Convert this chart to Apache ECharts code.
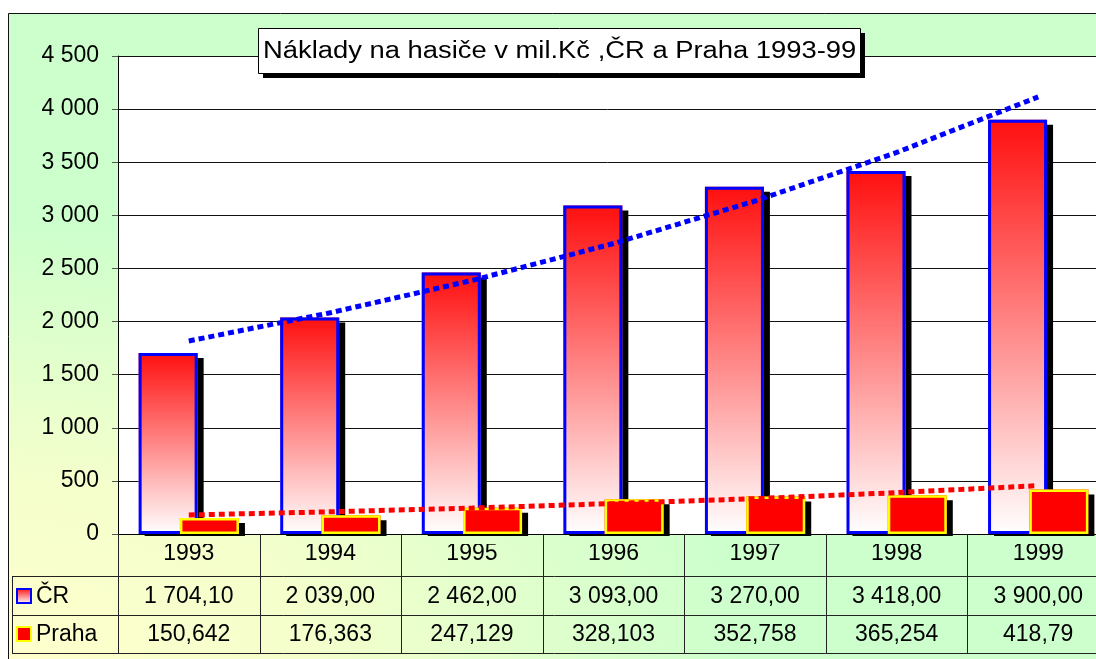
<!DOCTYPE html>
<html>
<head>
<meta charset="utf-8">
<title>Náklady na hasiče v mil.Kč ,ČR a Praha 1993-99</title>
<script src="https://cdn.jsdelivr.net/npm/echarts@6/dist/echarts.min.js"></script>
<style>
html, body { margin: 0; padding: 0; background: #fff; }
#chart { width: 1096px; height: 659px; }
</style>
</head>
<body>
<div id="chart"></div>
<script>
const chartTitle = 'Náklady na hasiče v mil.Kč ,ČR a Praha 1993-99'
const years = ['1993', '1994', '1995', '1996', '1997', '1998', '1999']
const crValues = [1704.10, 2039.00, 2462.00, 3093.00, 3270.00, 3418.00, 3900.00]
const prahaValues = [150.642, 176.363, 247.129, 328.103, 352.758, 365.254, 418.79]
// trend lines
const crTrend = [1817, 2083, 2387, 2735, 3135, 3592, 4115]
const prahaTrend = [179, 209, 244, 287, 333, 389, 455]

const font = '"Liberation Sans", Arial, sans-serif'

function fmtThousands(v) {
  const n = Math.floor(v)
  return n >= 1000 ? Math.floor(n / 1000) + ' ' + String(n % 1000).padStart(3, '0') : String(n)
}
function fmtCR(v) {
  const parts = v.toFixed(2).split('.')
  return fmtThousands(Number(parts[0])) + ',' + parts[1]
}
function fmtPraha(v) {
  return String(v).replace('.', ',')
}

const crFill = new echarts.graphic.LinearGradient(0, 0, 0, 1, [
  { offset: 0, color: '#ff0f0f' },
  { offset: 1, color: '#ffffff' }
])

// fill (with drop shadow) and outline are separate bar series on twin category axes,
// so the shadow of the outline does not land inside the bar
const barBase = { type: 'bar', barWidth: 59, barGap: '-30%' }
const fillShadow = { borderWidth: 0, shadowColor: '#000', shadowOffsetX: 6, shadowOffsetY: 5, shadowBlur: 0 }

const chart = echarts.init(document.getElementById('chart'))
chart.setOption({
  animation: false,
  grid: {
    left: 118,
    top: 56,
    width: 991,
    height: 478,
    outerBoundsMode: 'none',
    containLabel: false,
    show: true,
    backgroundColor: '#fff',
    borderWidth: 0
  },
  xAxis: [
    {
      type: 'category',
      data: years,
      axisLine: { lineStyle: { color: '#000', width: 1 } },
      axisTick: { show: false },
      axisLabel: { margin: 8, color: '#000', fontFamily: font, fontSize: 23 }
    },
    { type: 'category', data: years, show: false }
  ],
  yAxis: {
    type: 'value',
    min: 0,
    max: 4500,
    interval: 500,
    axisLine: { show: true, lineStyle: { color: '#000' } },
    axisTick: { show: true, length: 6, lineStyle: { color: '#555' } },
    axisLabel: { margin: 19, color: '#000', fontFamily: font, fontSize: 23, formatter: fmtThousands },
    splitLine: { lineStyle: { color: '#111', width: 1 } }
  },
  series: [
    Object.assign({ name: 'ČR', data: crValues, xAxisIndex: 0,
      itemStyle: Object.assign({ color: crFill }, fillShadow) }, barBase),
    Object.assign({ name: 'ČR ', data: crValues, xAxisIndex: 1,
      itemStyle: { color: 'rgba(0,0,0,0)', borderColor: '#0000ff', borderWidth: 3 } }, barBase),
    Object.assign({ name: 'Praha', data: prahaValues, xAxisIndex: 0,
      itemStyle: Object.assign({ color: '#ff0000' }, fillShadow) }, barBase),
    Object.assign({ name: 'Praha ', data: prahaValues, xAxisIndex: 1,
      itemStyle: { color: 'rgba(0,0,0,0)', borderColor: '#ffff00', borderWidth: 2.5 } }, barBase),
    {
      name: 'ČR trend',
      type: 'line',
      data: crTrend,
      symbol: 'none',
      lineStyle: { color: '#0000ff', width: 5, type: [6, 4], cap: 'butt' }
    },
    {
      name: 'Praha trend',
      type: 'line',
      data: prahaTrend,
      symbol: 'none',
      lineStyle: { color: '#ff0000', width: 5, type: [6, 4], cap: 'butt' }
    }
  ]
})

// background, title box and data table, placed from the axes
const c0 = chart.convertToPixel({ xAxisIndex: 0 }, years[0])
const c1 = chart.convertToPixel({ xAxisIndex: 0 }, years[1])
const band = c1 - c0
const y0 = Math.round(chart.convertToPixel({ yAxisIndex: 0 }, 0))
const rowTops = [y0, y0 + 42, y0 + 81, y0 + 119]
const tableLeft = 12
const plotLeft = Math.round(c0 - band / 2)

const S = 646 / 1088
const bgFill = new echarts.graphic.RadialGradient(0, 1088, 1088, [
  { offset: 0, color: '#ffffcc' },
  { offset: 0.28, color: '#f4ffcc' },
  { offset: 0.68, color: '#ccffcc' },
  { offset: 1, color: '#ccffcc' }
], true)

const lineStyle = { stroke: '#222', lineWidth: 1 }
const px = v => Math.round(v) + 0.5
const elements = [
  { type: 'rect', x: 8, y: 13, scaleY: S, z: -100, silent: true,
    shape: { x: 0, y: 0, width: 1088, height: 1088 }, style: { fill: bgFill } },
  // hides the bar shadows below the zero line
  { type: 'rect', x: 8, y: 13, scaleY: S, z: 50, silent: true,
    shape: { x: plotLeft - 8, y: (y0 + 2 - 13) / S, width: 1100, height: 8 / S }, style: { fill: bgFill } },
  { type: 'rect', z: 60, silent: true,
    shape: { x: 8.5, y: 13.5, width: 1200, height: 1000 }, style: { fill: 'none', stroke: '#111', lineWidth: 1 } },
  // title box
  { type: 'rect', z: 70, silent: true, shape: { x: 263, y: 33, width: 602, height: 45 }, style: { fill: '#000' } },
  { type: 'rect', z: 71, silent: true, shape: { x: 258.5, y: 28.5, width: 602, height: 45 },
    style: { fill: '#fff', stroke: '#000', lineWidth: 1 } },
  { type: 'text', z: 72, silent: true, x: 263, y: 51.5, scaleX: 1.19,
    style: { text: chartTitle, font: '23px ' + font, fill: '#000', verticalAlign: 'middle' } }
]

const boundaries = []
for (let i = 0; i <= years.length; i++) boundaries.push(c0 - band / 2 + i * band)
boundaries.forEach(b => {
  elements.push({ type: 'line', z: 60, silent: true,
    shape: { x1: px(b), y1: rowTops[0], x2: px(b), y2: rowTops[3] }, style: lineStyle })
})
elements.push({ type: 'line', z: 60, silent: true,
  shape: { x1: px(tableLeft), y1: rowTops[1], x2: px(tableLeft), y2: rowTops[3] }, style: lineStyle })
rowTops.slice(1).forEach(y => {
  elements.push({ type: 'line', z: 60, silent: true,
    shape: { x1: tableLeft, y1: px(y), x2: 1200, y2: px(y) }, style: lineStyle })
})

const rows = [
  { name: 'ČR', values: crValues.map(fmtCR), key: { fill: crFill, stroke: '#0000ff' } },
  { name: 'Praha', values: prahaValues.map(fmtPraha), key: { fill: '#ff0000', stroke: '#ffff00' } }
]
rows.forEach((row, r) => {
  const cy = (rowTops[r + 1] + rowTops[r + 2]) / 2
  elements.push({ type: 'rect', z: 61, silent: true,
    shape: { x: 17, y: Math.round(cy) - 7, width: 14, height: 14 },
    style: { fill: row.key.fill, stroke: row.key.stroke, lineWidth: 2 } })
  elements.push({ type: 'text', z: 61, silent: true, x: 36, y: cy + 1,
    style: { text: row.name, font: '23px ' + font, fill: '#000', verticalAlign: 'middle' } })
  row.values.forEach((t, i) => {
    elements.push({ type: 'text', z: 61, silent: true, x: c0 + i * band, y: cy + 1,
      style: { text: t, font: '23px ' + font, fill: '#000', align: 'center', verticalAlign: 'middle' } })
  })
})

chart.setOption({ graphic: { elements: elements } })
</script>
</body>
</html>
